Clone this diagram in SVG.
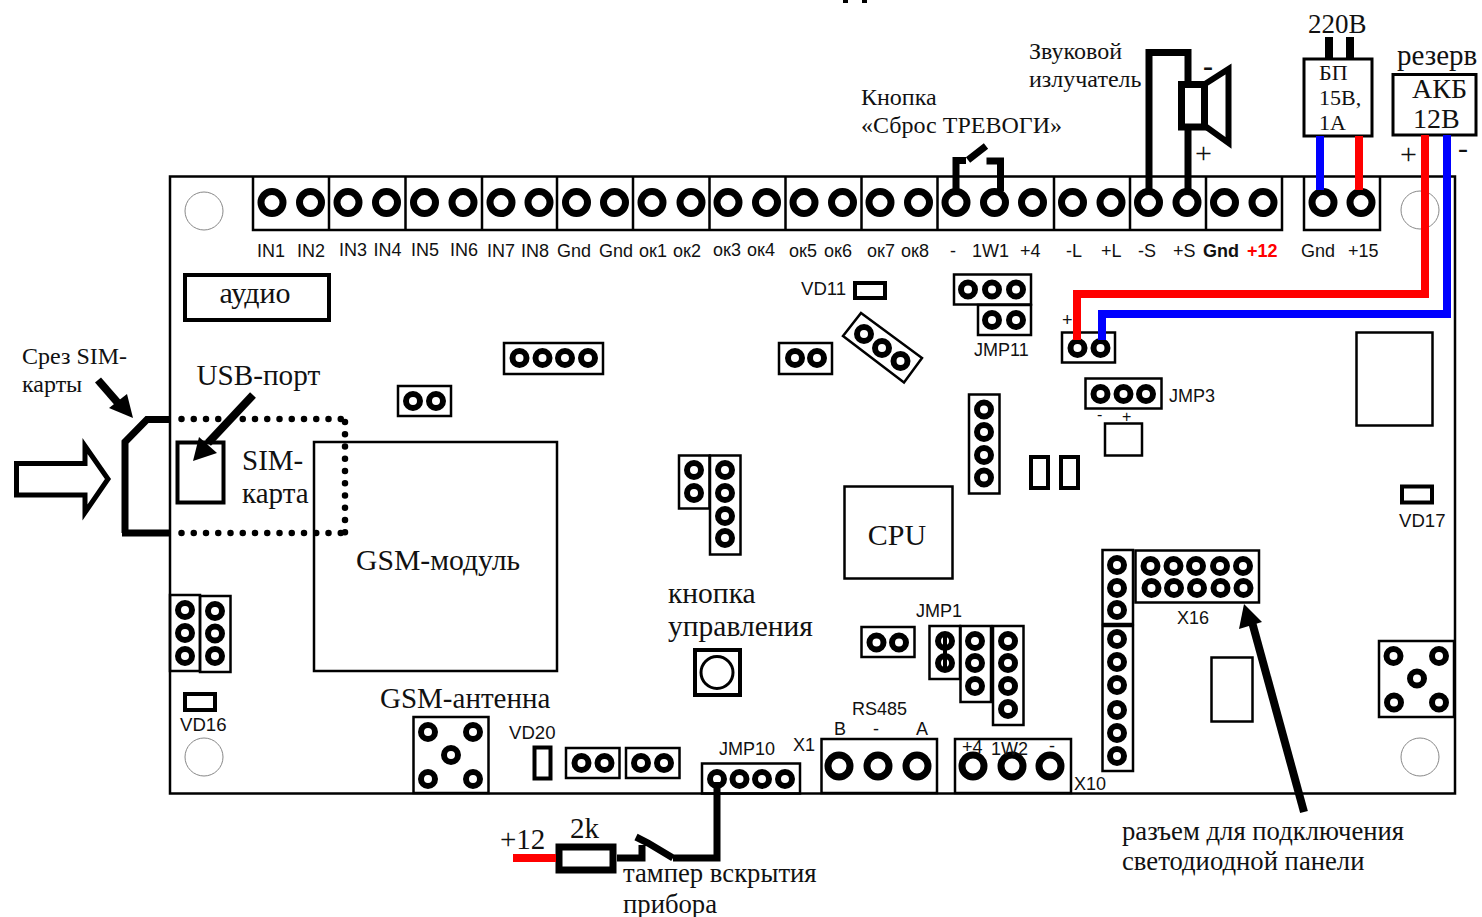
<svg xmlns="http://www.w3.org/2000/svg" xmlns:xlink="http://www.w3.org/1999/xlink" width="1482" height="917" viewBox="0 0 1482 917">
<style>
text{font-family:"Liberation Sans",Arial,sans-serif;font-size:18px;fill:#111}
.s{font-family:"Liberation Serif","Times New Roman",serif;fill:#111}
.s24{font-size:24px}.s26{font-size:26.700px}.s28{font-size:29px}.s29{font-size:29.500px}.s22{font-size:22px}
.v{font-size:18.600px}
.b{fill:none;stroke:#000;stroke-width:2.500}
.t{fill:none;stroke:#000;stroke-width:4}
.m{fill:none;stroke:#000;stroke-width:3}
.w{fill:none;stroke:#000;stroke-width:7}
.hole{fill:none;stroke:#888;stroke-width:1}
.bp{fill:#fff;stroke:#000;stroke-width:7}
.sp{fill:#fff;stroke:#000;stroke-width:6}
.dot{fill:none;stroke:#000;stroke-width:6.500;stroke-linecap:round;stroke-dasharray:0 12.250}
.red{fill:none;stroke:#f00;stroke-width:8}
.blue{fill:none;stroke:#00f;stroke-width:8}
</style>
<defs>
<circle id="P" r="11" class="bp"/>
<circle id="p" r="7" class="sp"/>
</defs>
<rect x="0" y="0" width="1482" height="917" fill="#fff"/>
<rect x="843" y="0" width="5" height="3" fill="#000"/><rect x="862" y="0" width="5" height="3" fill="#000"/>

<g id="board">
<rect x="170" y="176.500" width="1285" height="617" class="b"/>
<circle class="hole" cx="204" cy="211" r="19"/><circle class="hole" cx="1420" cy="210" r="19"/><circle class="hole" cx="204" cy="757" r="19"/><circle class="hole" cx="1420" cy="757" r="19"/>
</g>

<g id="terminals-top">
<path class="m" style="stroke-width:2.500" d="M253 176V230H1282V176M329 176V230M405.500 176V230M482 176V230M557 176V230M633 176V230M709.500 176V230M785.500 176V230M861.500 176V230M937.500 176V230M1054 176V230M1130 176V230M1206 176V230M1304 176V230H1380V176"/>
<use href="#P" x="272" y="202.500"/><use href="#P" x="310.500" y="202.500"/><use href="#P" x="348" y="202.500"/><use href="#P" x="386.500" y="202.500"/><use href="#P" x="424.500" y="202.500"/><use href="#P" x="463" y="202.500"/><use href="#P" x="501" y="202.500"/><use href="#P" x="539" y="202.500"/><use href="#P" x="576.500" y="202.500"/><use href="#P" x="614.500" y="202.500"/><use href="#P" x="652" y="202.500"/><use href="#P" x="691" y="202.500"/><use href="#P" x="728" y="202.500"/><use href="#P" x="766.500" y="202.500"/><use href="#P" x="804" y="202.500"/><use href="#P" x="842.500" y="202.500"/><use href="#P" x="880" y="202.500"/><use href="#P" x="918.500" y="202.500"/><use href="#P" x="956" y="202.500"/><use href="#P" x="994.500" y="202.500"/><use href="#P" x="1032.500" y="202.500"/><use href="#P" x="1072.500" y="202.500"/><use href="#P" x="1111" y="202.500"/><use href="#P" x="1148.500" y="202.500"/><use href="#P" x="1187" y="202.500"/><use href="#P" x="1224.500" y="202.500"/><use href="#P" x="1263" y="202.500"/><use href="#P" x="1323" y="202.500"/><use href="#P" x="1361" y="202.500"/>
<text x="257" y="257">IN1</text><text x="297" y="257">IN2</text><text x="339" y="256">IN3</text><text x="373.500" y="256">IN4</text><text x="411" y="256">IN5</text><text x="450" y="256">IN6</text><text x="487" y="257">IN7</text><text x="521" y="257">IN8</text><text x="557" y="257">Gnd</text><text x="599" y="257">Gnd</text><text x="639" y="257">ок1</text><text x="673" y="257">ок2</text><text x="713" y="256">ок3</text><text x="747" y="256">ок4</text><text x="789" y="257">ок5</text><text x="824" y="257">ок6</text><text x="867" y="257">ок7</text><text x="901" y="257">ок8</text><text x="950" y="257">-</text><text x="972" y="257">1W1</text><text x="1020" y="257">+4</text><text x="1066" y="257">-L</text><text x="1101" y="257">+L</text><text x="1138" y="257">-S</text><text x="1173" y="257">+S</text><text x="1203" y="257" font-weight="bold">Gnd</text><text x="1247" y="257" font-weight="bold" style="fill:#f00">+12</text><text x="1301" y="257">Gnd</text><text x="1348" y="257">+15</text>
</g>

<g id="audio"><rect x="185" y="275" width="144" height="45" class="t"/><text class="s" x="255" y="303" text-anchor="middle" style="font-size:30px">аудио</text></g>

<g id="sim-slot">
<rect x="177.500" y="442.500" width="46" height="60" class="t"/>
<path class="w" d="M125 533V442L147 419.500H170M122 533H170"/>
<path class="dot" d="M181.500 419H342"/>
<path class="dot" d="M345 422V533"/>
<path class="dot" d="M181.500 533H345"/>
<path fill="#fff" stroke="#000" stroke-width="5" d="M16.500 463.500H85V446L108 479L85 512.500V495H16.500Z"/>
<text class="s s28" x="242" y="470">SIM-</text><text class="s s28" x="242" y="503">карта</text>
<text class="s s24" x="22" y="364">Срез SIM-</text><text class="s s24" x="22" y="392">карты</text>
<text class="s" x="196.500" y="385" style="font-size:29.200px">USB-порт</text>
</g>

<g id="gsm"><rect x="314" y="442" width="243" height="229" class="b"/><text class="s" x="356" y="570" style="font-size:29.700px">GSM-модуль</text></g>
<g id="cpu"><rect x="844.500" y="486.500" width="108" height="92" class="b"/><text class="s" x="897" y="545" text-anchor="middle" style="font-size:30px">CPU</text></g>

<g id="headers">
<rect x="504" y="343" width="99" height="31" class="b"/><use href="#p" x="519.500" y="358"/><use href="#p" x="542.500" y="358"/><use href="#p" x="565" y="358"/><use href="#p" x="588" y="358"/>
<rect x="398" y="386" width="53" height="30" class="b"/><use href="#p" x="413" y="401"/><use href="#p" x="436" y="401"/>
<rect x="779" y="343" width="53" height="31" class="b"/><use href="#p" x="795" y="358"/><use href="#p" x="817" y="358"/>
<polygon points="861,313 922,358 904,382.500 843,336" class="b"/><use href="#p" x="864" y="334"/><use href="#p" x="882" y="348"/><use href="#p" x="900.500" y="361"/>
<rect x="954" y="274.500" width="77" height="30" class="b"/><use href="#p" x="968" y="289.500"/><use href="#p" x="992" y="289.500"/><use href="#p" x="1016" y="289.500"/>
<rect x="978" y="305" width="53" height="30" class="b"/><use href="#p" x="992" y="320"/><use href="#p" x="1016" y="320"/>
<text x="974" y="356">JMP11</text>
<rect x="1062" y="332.500" width="53" height="30" class="b"/><use href="#p" x="1077.500" y="348"/><use href="#p" x="1100.500" y="348"/>
<text x="1062" y="326">+</text>
<rect x="1085.500" y="378.500" width="76" height="30" class="b"/><use href="#p" x="1100.500" y="394"/><use href="#p" x="1123.500" y="394"/><use href="#p" x="1146" y="394"/>
<text x="1169" y="402">JMP3</text>
<text x="1097" y="420" style="font-size:16px">-</text><text x="1122" y="422" style="font-size:16px">+</text>
<rect x="1105" y="423.500" width="37" height="32" class="b"/>
<rect x="1031" y="457" width="17" height="31" class="t"/><rect x="1061" y="457" width="17" height="31" class="t"/>
<rect x="1356.500" y="332.500" width="76" height="93" class="b"/>
<rect x="969" y="394.500" width="30.500" height="99" class="b"/><use href="#p" x="984" y="409.500"/><use href="#p" x="984" y="432"/><use href="#p" x="984" y="455"/><use href="#p" x="984" y="477.500"/>
<rect x="679" y="455.500" width="30.500" height="53" class="b"/><use href="#p" x="694" y="470"/><use href="#p" x="694" y="493"/>
<rect x="710" y="455.500" width="30.500" height="99" class="b"/><use href="#p" x="725" y="470"/><use href="#p" x="725" y="493"/><use href="#p" x="725" y="516"/><use href="#p" x="725" y="538"/>
<rect x="170" y="595" width="30" height="76" class="b"/><use href="#p" x="185" y="610"/><use href="#p" x="185" y="633"/><use href="#p" x="185" y="656"/>
<rect x="200" y="596" width="30.500" height="76" class="b"/><use href="#p" x="215" y="611"/><use href="#p" x="215" y="633.500"/><use href="#p" x="215" y="656"/>
<rect x="861.500" y="627" width="53" height="30" class="b"/><use href="#p" x="876.500" y="642.500"/><use href="#p" x="899" y="642.500"/>
<text x="916" y="617">JMP1</text>
<rect x="929.500" y="626" width="30.500" height="53" class="b"/><use href="#p" x="945" y="641"/><use href="#p" x="945" y="663"/><path d="M945 635V669" stroke="#000" stroke-width="4" fill="none"/>
<rect x="960.500" y="626" width="30.500" height="76" class="b"/><use href="#p" x="975" y="641"/><use href="#p" x="975" y="663"/><use href="#p" x="975" y="686"/>
<rect x="993" y="626" width="30.500" height="99" class="b"/><use href="#p" x="1008" y="641"/><use href="#p" x="1008" y="663"/><use href="#p" x="1008" y="686"/><use href="#p" x="1008" y="709"/>
<rect x="702" y="763.500" width="98" height="30" class="b"/><use href="#p" x="717" y="779"/><use href="#p" x="739.500" y="779"/><use href="#p" x="762" y="779"/><use href="#p" x="785" y="779"/>
<text x="719" y="755">JMP10</text>
<rect x="566" y="748" width="53.500" height="30" class="b"/><use href="#p" x="581.500" y="763"/><use href="#p" x="604.500" y="763"/>
<rect x="626" y="748" width="53.500" height="30" class="b"/><use href="#p" x="641" y="763"/><use href="#p" x="664" y="763"/>
<rect x="1102.500" y="550" width="30.500" height="74" class="b"/><use href="#p" x="1117" y="565"/><use href="#p" x="1117" y="588"/><use href="#p" x="1117" y="610"/>
<rect x="1102.500" y="626" width="30.500" height="145" class="b"/><use href="#p" x="1117" y="639"/><use href="#p" x="1117" y="662"/><use href="#p" x="1117" y="685"/><use href="#p" x="1117" y="710"/><use href="#p" x="1117" y="733"/><use href="#p" x="1117" y="756"/>
<rect x="1135.500" y="550.500" width="123.500" height="52" class="b"/>
<use href="#p" x="1150.500" y="566"/><use href="#p" x="1173.500" y="566"/><use href="#p" x="1196" y="566"/><use href="#p" x="1220" y="566"/><use href="#p" x="1243" y="566"/>
<use href="#p" x="1151.500" y="588"/><use href="#p" x="1174" y="588"/><use href="#p" x="1197" y="588"/><use href="#p" x="1220.500" y="588"/><use href="#p" x="1243.500" y="588"/>
<text x="1177" y="624">X16</text>
<rect x="1211.500" y="657.500" width="41" height="64" class="b"/>
</g>

<g id="leds">
<rect x="855" y="283" width="30" height="15" class="t"/><text class="v" x="801" y="295">VD11</text>
<rect x="1402" y="486.500" width="30" height="16" class="t"/><text class="v" x="1399" y="527">VD17</text>
<rect x="185" y="694" width="30" height="16" class="t"/><text class="v" x="180" y="731">VD16</text>
<rect x="534.500" y="747.500" width="16" height="31" class="t"/><text class="v" x="509" y="739">VD20</text>
</g>

<g id="button"><rect x="695" y="650" width="45" height="45" class="t"/><circle cx="717" cy="672.500" r="16" fill="none" stroke="#000" stroke-width="3"/>
<text class="s s29" x="668" y="603">кнопка</text><text class="s s29" x="668" y="636">управления</text></g>

<g id="antenna1"><rect x="413.500" y="717" width="75" height="76" class="b"/><use href="#p" x="428" y="732"/><use href="#p" x="473" y="732"/><use href="#p" x="451" y="755"/><use href="#p" x="428" y="779"/><use href="#p" x="473" y="779"/>
<text class="s s28" x="380" y="708">GSM-антенна</text></g>
<g id="antenna2"><rect x="1379" y="641" width="75" height="76" class="b"/><use href="#p" x="1393.500" y="656"/><use href="#p" x="1439" y="656"/><use href="#p" x="1417" y="678.500"/><use href="#p" x="1394" y="702.500"/><use href="#p" x="1439" y="702.500"/></g>

<g id="x1"><rect x="821.500" y="739" width="115.500" height="54" class="b"/><use href="#P" x="839" y="766"/><use href="#P" x="878" y="766"/><use href="#P" x="917" y="766"/>
<text x="852" y="715">RS485</text><text x="834" y="735">B</text><text x="873" y="735">-</text><text x="916" y="735">A</text><text x="793" y="751">X1</text></g>
<g id="x10"><rect x="955" y="739" width="116" height="54" class="b"/><use href="#P" x="973" y="766"/><use href="#P" x="1012" y="766"/><use href="#P" x="1050" y="766"/>
<text x="962" y="753">+4</text><text x="991" y="755">1W2</text><text x="1049" y="752">-</text><text x="1074" y="790">X10</text></g>

<g id="psu">
<rect x="1304" y="59" width="68" height="77" class="m"/>
<rect x="1325" y="37" width="8" height="22" fill="#000"/><rect x="1346" y="37" width="8" height="22" fill="#000"/>
<text class="s" x="1308" y="33" style="font-size:27px">220В</text>
<text class="s s22" x="1319" y="80">БП</text><text class="s s22" x="1319" y="105">15В,</text><text class="s s22" x="1319" y="130">1А</text>
</g>
<g id="battery">
<rect x="1393" y="74.500" width="83" height="60.500" class="m"/>
<text class="s s28" x="1397" y="65">резерв</text><text class="s" x="1412" y="98" style="font-size:28px">АКБ</text><text class="s" x="1413" y="128" style="font-size:28px">12В</text>
<text class="s" x="1400" y="164" style="font-size:30px">+</text><text class="s" x="1458" y="158" style="font-size:30px">-</text>
</g>
<g id="speaker">
<rect x="1181.500" y="84.500" width="23" height="42.500" fill="#fff" stroke="#000" stroke-width="7"/>
<path class="w" style="stroke-width:6" d="M1205 84L1228.500 69V143L1205 126"/>
<text class="s" x="1203" y="76" style="font-size:30px;font-weight:bold">-</text><text class="s" x="1195" y="163" style="font-size:30px">+</text>
<text class="s s24" x="1029" y="59">Звуковой</text><text class="s s24" x="1029" y="87">излучатель</text>
</g>
<g id="reset-label"><text class="s s24" x="861" y="105">Кнопка</text><text class="s s24" x="861" y="133">«Сброс ТРЕВОГИ»</text></g>
<g id="tamper-labels">
<text class="s" x="500" y="849" style="font-size:29px">+12</text><text class="s" x="570" y="838" style="font-size:29px">2k</text>
<text class="s s26" x="623" y="882">тампер вскрытия</text><text class="s s26" x="623" y="913">прибора</text>
<rect x="559" y="847" width="54" height="23" fill="#fff" stroke="#000" stroke-width="7"/>
</g>
<g id="panel-label"><text class="s s26" x="1122" y="840">разъем для подключения</text><text class="s s26" x="1122" y="870">светодиодной панели</text></g>

<g id="connectors">
<path class="w" d="M956 191V160.500H966M968 160L986 146M986.500 161H1000.500V191"/>
<path class="w" d="M1149 191V52.500H1188V82M1188 128V191"/>
<path class="blue" d="M1320 136V190"/><path class="red" d="M1359 136V190"/>
<path class="red" d="M1425 135V294H1077V340"/><path class="blue" d="M1447 135V314H1102V340"/>
<path class="red" d="M513 858H556"/>
<path class="w" d="M617 858H642V845M636 837L648 843L673 858M673 858H717V782"/>
<path class="w" style="stroke-width:8" d="M98 380L118 403"/><polygon points="133,418 109,408 127,394" fill="#000"/>
<path class="w" style="stroke-width:8" d="M253 395L208 443"/><polygon points="193,461 199,437 217,453" fill="#000"/>
<path class="w" style="stroke-width:8" d="M1304 812L1252 622"/><polygon points="1244,604 1239,629 1262,622" fill="#000"/>
</g>
</svg>
